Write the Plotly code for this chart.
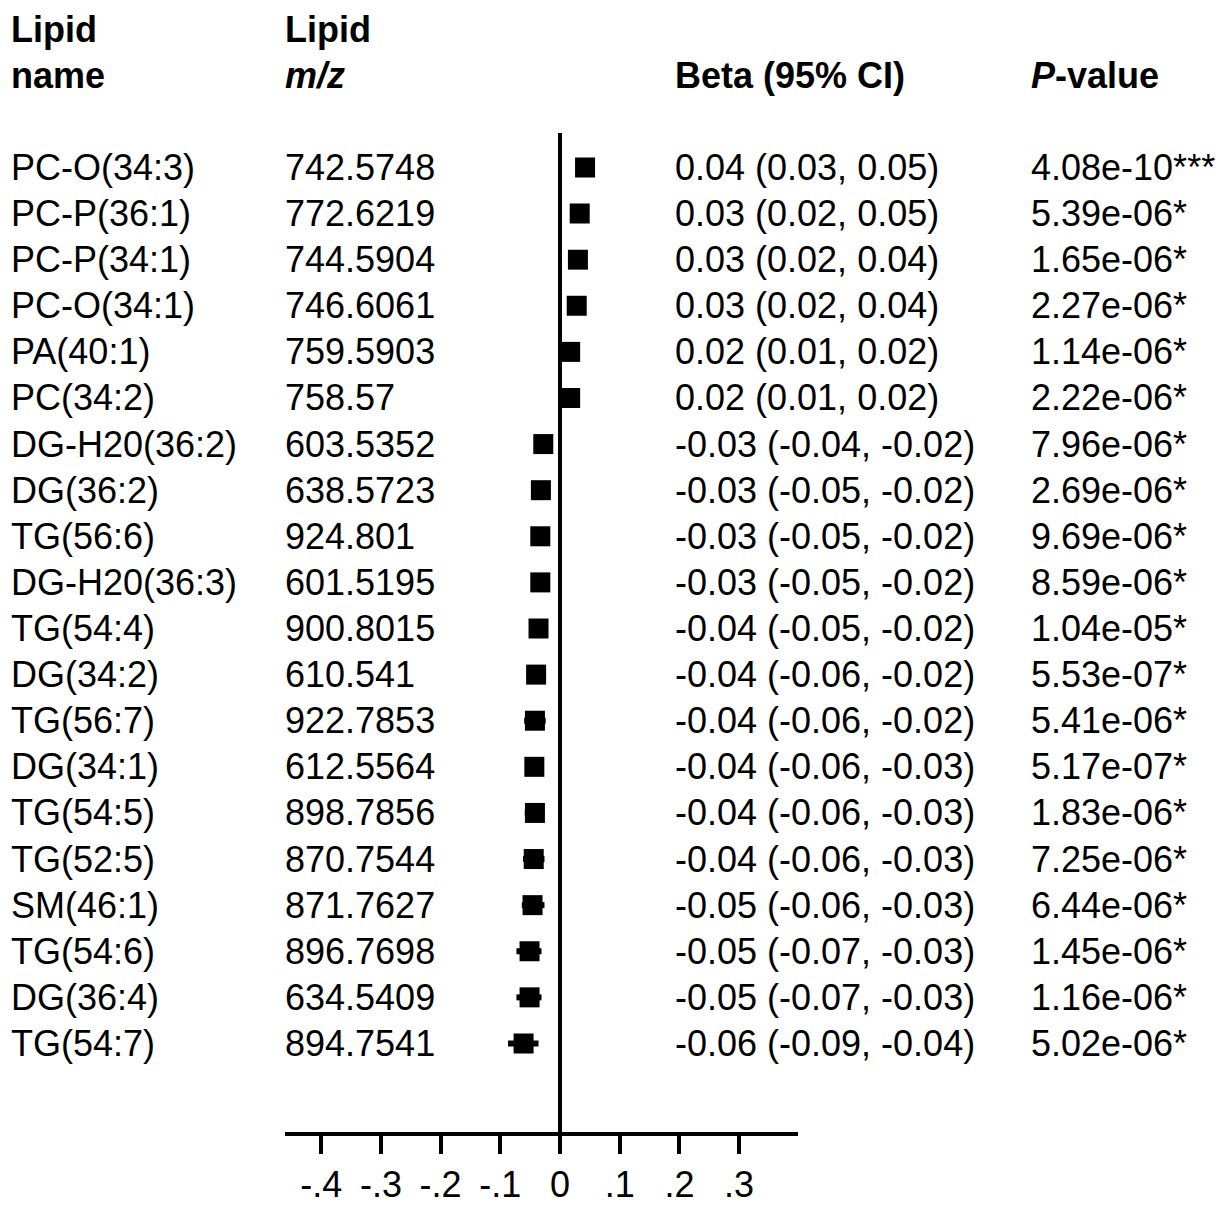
import plotly.graph_objects as go

# Lipids associated with the outcome, sorted by effect size
lipid_names = [
    "PC-O(34:3)", "PC-P(36:1)", "PC-P(34:1)", "PC-O(34:1)", "PA(40:1)",
    "PC(34:2)", "DG-H20(36:2)", "DG(36:2)", "TG(56:6)", "DG-H20(36:3)",
    "TG(54:4)", "DG(34:2)", "TG(56:7)", "DG(34:1)", "TG(54:5)",
    "TG(52:5)", "SM(46:1)", "TG(54:6)", "DG(36:4)", "TG(54:7)",
]
lipid_mz = [
    "742.5748", "772.6219", "744.5904", "746.6061", "759.5903",
    "758.57", "603.5352", "638.5723", "924.801", "601.5195",
    "900.8015", "610.541", "922.7853", "612.5564", "898.7856",
    "870.7544", "871.7627", "896.7698", "634.5409", "894.7541",
]
beta = [
    0.042, 0.033, 0.030, 0.028, 0.017,
    0.017, -0.028, -0.032, -0.033, -0.033,
    -0.036, -0.040, -0.042, -0.043, -0.042,
    -0.044, -0.046, -0.051, -0.051, -0.061,
]
ci_low = [
    0.033, 0.019, 0.019, 0.017, 0.012,
    0.011, -0.038, -0.046, -0.046, -0.047,
    -0.049, -0.056, -0.060, -0.058, -0.059,
    -0.062, -0.064, -0.073, -0.073, -0.087,
]
ci_high = [
    0.051, 0.046, 0.041, 0.039, 0.022,
    0.023, -0.018, -0.019, -0.019, -0.019,
    -0.022, -0.024, -0.024, -0.027, -0.026,
    -0.026, -0.026, -0.031, -0.031, -0.036,
]
p_values = [
    4.08e-10, 5.39e-06, 1.65e-06, 2.27e-06, 1.14e-06,
    2.22e-06, 7.96e-06, 2.69e-06, 9.69e-06, 8.59e-06,
    1.04e-05, 5.53e-07, 5.41e-06, 5.17e-07, 1.83e-06,
    7.25e-06, 6.44e-06, 1.45e-06, 1.16e-06, 5.02e-06,
]
p_stars = ["***"] + ["*"] * 19

tick_vals = [-0.4, -0.3, -0.2, -0.1, 0, 0.1, 0.2, 0.3]
tick_text = ["-.4", "-.3", "-.2", "-.1", "0", ".1", ".2", ".3"]

W, H = 1227, 1205
FONT = "Arial, Liberation Sans, sans-serif"
FS = 36

rows = list(range(len(lipid_names)))
err_plus = [h - b for h, b in zip(ci_high, beta)]
err_minus = [b - l for b, l in zip(beta, ci_low)]

fig = go.Figure()
fig.add_trace(go.Scatter(
    x=beta, y=rows, mode="markers",
    marker=dict(symbol="square", size=20, color="black"),
    error_x=dict(type="data", symmetric=False, array=err_plus,
                 arrayminus=err_minus, thickness=6, width=0, color="black"),
    showlegend=False, hoverinfo="skip",
))


def px_x(p):
    return p / W


def px_y(p):
    return 1 - p / H


annotations = []
col_x = {"name": 8.5, "mz": 282.5, "beta": 672.5, "p": 1029}

# table columns, one line per lipid
for i in rows:
    beta_txt = f"{beta[i]:.2f} ({ci_low[i]:.2f}, {ci_high[i]:.2f})"
    p_txt = f"{p_values[i]:.2e}{p_stars[i]}"
    for key, txt in (("name", lipid_names[i]), ("mz", lipid_mz[i]),
                     ("beta", beta_txt), ("p", p_txt)):
        annotations.append(dict(
            x=px_x(col_x[key]), xref="paper", y=i, yref="y",
            text=txt, showarrow=False, xanchor="left", yanchor="middle",
            font=dict(family=FONT, size=FS, color="black"),
        ))

# column headers
headers = [
    ("name", 30, "<b>Lipid</b>"), ("name", 76, "<b>name</b>"),
    ("mz", 30, "<b>Lipid</b>"), ("mz", 76, "<b><i>m/z</i></b>"),
    ("beta", 76, "<b>Beta (95% CI)</b>"), ("p", 76, "<b><i>P</i>-value</b>"),
]
for key, ypx, txt in headers:
    annotations.append(dict(
        x=px_x(col_x[key]), xref="paper", y=px_y(ypx), yref="paper",
        text=txt, showarrow=False, xanchor="left", yanchor="middle",
        font=dict(family=FONT, size=FS, color="black"),
    ))

# plot area geometry (pixels)
ax_left, ax_right, ax_top, ax_bottom = 285, 798, 133, 1136
zero_px = 560
unit = 597.0  # pixels per 1.0 of beta
x_range = [-(zero_px - ax_left) / unit, (ax_right - zero_px) / unit]
row0, row_step = 168.0, 46.26
y_range = [(ax_bottom - row0) / row_step, (ax_top - row0) / row_step]

fig.update_layout(
    width=W, height=H,
    margin=dict(l=0, r=0, t=0, b=0),
    paper_bgcolor="white", plot_bgcolor="white",
    font=dict(family=FONT, size=FS, color="black"),
    xaxis=dict(
        domain=[px_x(ax_left), px_x(ax_right)], range=x_range,
        showgrid=False, zeroline=True, zerolinecolor="black", zerolinewidth=4,
        showline=True, linecolor="black", linewidth=4,
        ticks="outside", ticklen=18, tickwidth=4, tickcolor="black",
        tickvals=tick_vals, ticktext=tick_text,
        tickfont=dict(family=FONT, size=FS, color="black"),
    ),
    yaxis=dict(
        domain=[px_y(ax_bottom), px_y(ax_top)], range=y_range,
        showgrid=False, zeroline=False, showline=False,
        showticklabels=False, ticks="",
    ),
    annotations=annotations,
)

fig.write_html("out.html")
